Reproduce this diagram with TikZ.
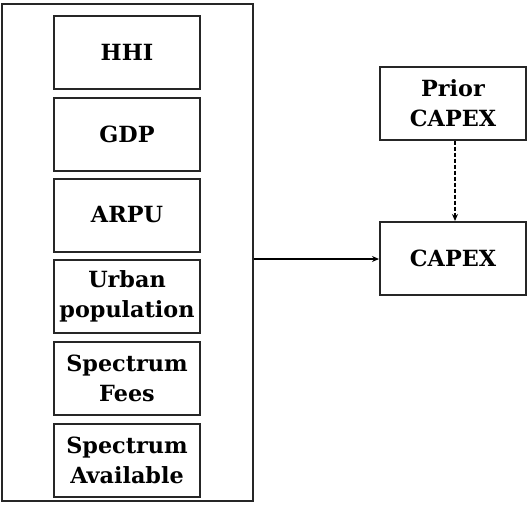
\documentclass[tikz,border=0pt]{standalone}
\usepackage{fontspec}
\setmainfont{DejaVu Serif}
\usetikzlibrary{arrows.meta}
\begin{document}
\begin{tikzpicture}[x=1pt,y=-1pt,
  box/.style={draw=black!85,line width=2pt,minimum width=146pt,minimum height=73pt,inner sep=0pt,
    align=center,font=\fontsize{22.3}{30}\selectfont\bfseries},
  conn/.style={line width=1.3pt,-{Stealth[length=7pt,width=6pt]}}]
\useasboundingbox (0,0) rectangle (527,504);
\node[draw=black!85,line width=2pt,minimum width=251pt,minimum height=497pt,inner sep=0pt] (outer) at (127.5,252.5) {};
\node[box] (hhi) at (127,52.5) {HHI};
\node[box] (gdp) at (127,134.5) {GDP};
\node[box] (arpu) at (127,215) {ARPU};
\node[box] (urban) at (127,296.5) {Urban\\population};
\node[box] (fees) at (127,378) {Spectrum\\Fees};
\node[box] (avail) at (127,460) {Spectrum\\Available};
\node[box] (prior) at (453,103) {Prior\\CAPEX};
\node[box] (capex) at (453,258.5) {CAPEX};
\draw[conn] (outer.east |- 0,259) -- (capex.west |- 0,259);
\draw[conn,dashed,dash pattern=on 4pt off 2pt] (prior.south -| 455,0) -- (capex.north -| 455,0);
\end{tikzpicture}
\end{document}
